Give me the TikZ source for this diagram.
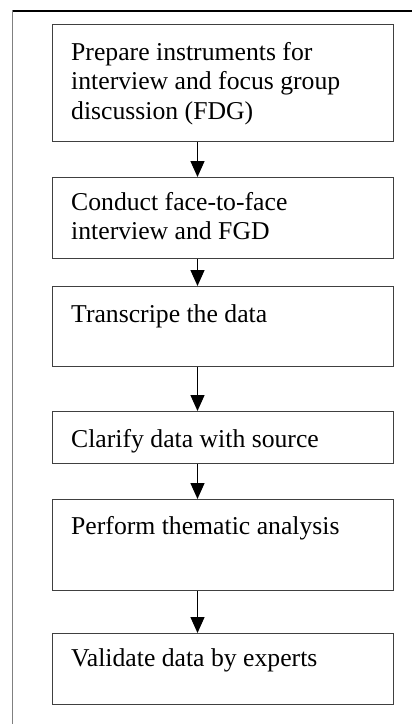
\documentclass[tikz,border=0pt]{standalone}
\usepackage{fontspec}
\setmainfont{Liberation Serif}
\usetikzlibrary{arrows.meta}
\newcommand{\steplines}[1]{\parbox[t]{315pt}{\raggedright #1}}
\begin{document}
\begin{tikzpicture}[x=1pt,y=-1pt,
  stepbox/.style={draw=black!75, line width=1.1pt, minimum width=341pt,
    inner sep=0pt, anchor=north west},
  steptext/.style={anchor=base west, inner sep=0pt,
    font=\fontsize{25.7}{29.5}\selectfont},
  flow/.style={-{Triangle[width=14pt,length=16pt]}, line width=1.3pt},
  frameline/.style={line width=1.2pt}]
\useasboundingbox (0,0) rectangle (412,724);

% outer frame (top and left edges)
\draw[frameline] (12,11) -- (412,11);
\draw[frameline, draw=black!50, line width=1.6pt] (12.5,10.4) -- (12.5,724);

% process boxes
\node[stepbox, minimum height=117pt] (s1) at (51.5,24)  {};
\node[stepbox, minimum height=81pt]  (s2) at (51.5,177) {};
\node[stepbox, minimum height=80pt]  (s3) at (51.5,286) {};
\node[stepbox, minimum height=52pt]  (s4) at (51.5,411) {};
\node[stepbox, minimum height=91pt]  (s5) at (51.5,499) {};
\node[stepbox, minimum height=71pt]  (s6) at (51.5,633) {};

% box labels
\node[steptext] (t1) at (71,60)  {\steplines{Prepare instruments for\\interview and focus group\\discussion (FDG)}};
\node[steptext] (t2) at (71,210) {\steplines{Conduct face-to-face\\interview and FGD}};
\node[steptext] (t3) at (71,322) {\steplines{Transcripe the data}};
\node[steptext] (t4) at (71,447) {\steplines{Clarify data with source}};
\node[steptext] (t5) at (71,534) {\steplines{Perform thematic analysis}};
\node[steptext] (t6) at (71,666) {\steplines{Validate data by experts}};

% connectors
\foreach \a/\b in {s1/s2, s2/s3, s3/s4, s4/s5, s5/s6}
  \draw[flow] (\a.south -| 197.5,0) -- (\b.north -| 197.5,0);
\end{tikzpicture}
\end{document}
